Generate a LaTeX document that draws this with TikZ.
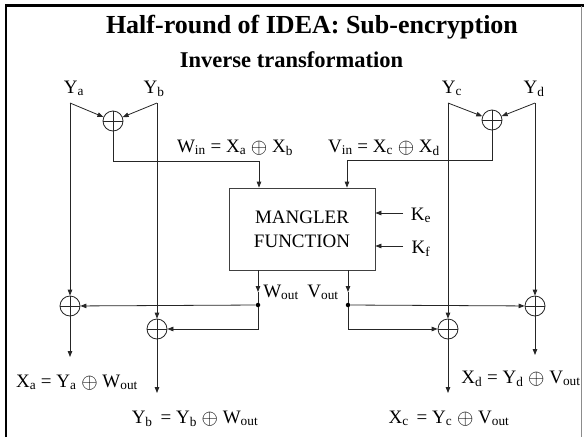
\documentclass[tikz,border=0pt]{standalone}
\usepackage{graphicx}
\usepackage{fontspec}
\setmainfont{Liberation Serif}
\usetikzlibrary{arrows.meta,calc}
\newcommand\sbs[1]{\textsubscript{#1}}
\newcommand\xo{ \raisebox{-1.2pt}{\scalebox{1.22}{$\oplus$}} }
\begin{document}
\begin{tikzpicture}[x=1pt,y=-1pt,
  ln/.style={draw=black!85,line width=0.8pt},
  arr/.style={ln,-{Triangle[length=6pt,width=4.5pt]}},
  xorn/.style={circle,draw=black!85,line width=0.8pt,minimum size=20pt,inner sep=0pt,
    path picture={\draw[black!85,line width=0.8pt]
      (path picture bounding box.north) -- (path picture bounding box.south)
      (path picture bounding box.west) -- (path picture bounding box.east);}},
  dotn/.style={circle,fill=black,inner sep=0pt,minimum size=4.5pt},
  lbl/.style={font=\fontsize{19}{23}\selectfont,inner sep=0pt,anchor=base},
  boxn/.style={draw=black!75,line width=0.8pt,minimum width=146pt,minimum height=82pt,
    align=center,font=\fontsize{19}{24}\selectfont,inner sep=0pt}]
\useasboundingbox (0,0) rectangle (584,437);
\fill[white] (0,0) rectangle (584,437);
% frame
\draw[line width=2.6pt,black] (6,437) -- (6,5.3) -- (584,5.3);
\draw[line width=0.9pt,black!45] (581,6) -- (581,437);
% titles
\node[inner sep=0pt,anchor=base,font=\fontsize{26}{30}\selectfont\bfseries] (title) at (312,33) {Half-round of IDEA: Sub-encryption};
\node[inner sep=0pt,anchor=base,font=\fontsize{22.5}{26}\selectfont\bfseries] (sub) at (291.5,67) {Inverse transformation};
% input labels
\node[lbl] (lya) at (74,93) {Y\sbs{a}};
\node[lbl] (lyb) at (154,93) {Y\sbs{b}};
\node[lbl] (lyc) at (452,93) {Y\sbs{c}};
\node[lbl] (lyd) at (534,93) {Y\sbs{d}};
\coordinate (ta) at (70,103);
\coordinate (tb) at (157,103);
\coordinate (tc) at (448,103);
\coordinate (td) at (535,103);
% xor nodes
\node[xorn] (xin) at (113,121) {};
\node[xorn] (xvin) at (492,120) {};
\node[xorn] (xa) at (70,306) {};
\node[xorn] (xb) at (157,329) {};
\node[xorn] (xc) at (448,329) {};
\node[xorn] (xd) at (535,306) {};
% mangler
\node[boxn] (mangler) at (302,229) {MANGLER\\FUNCTION};
% in labels
\node[lbl] (win) at (235,152) {W\sbs{in} = X\sbs{a}\xo X\sbs{b}};
\node[lbl] (vin) at (384,152) {V\sbs{in} = X\sbs{c}\xo X\sbs{d}};
% key labels
\node[lbl] (ke) at (421,220) {K\sbs{e}};
\node[lbl] (kf) at (421,253) {K\sbs{f}};
\coordinate (kes) at (403,213);
\coordinate (kfs) at (403,246);
\draw[arr] (kes) -- (mangler.east |- kes);
\draw[arr] (kfs) -- (mangler.east |- kfs);
% top xors
\draw[arr] (ta) -- (xin);
\draw[arr] (tb) -- (xin);
\draw[arr] (tc) -- (xvin);
\draw[arr] (td) -- (xvin);
\coordinate (wbend) at (259,161);
\coordinate (vbend) at (347,160);
\draw[arr] (xin) |- (wbend) -- (mangler.north -| wbend);
\draw[arr] (xvin) |- (vbend) -- (mangler.north -| vbend);
% vertical data lines
\draw[arr] (ta) -- (xa);
\draw[arr] (tb) -- (xb);
\draw[arr] (tc) -- (xc);
\draw[arr] (td) -- (xd);
% outputs of mangler
\node[dotn] (wdot) at (258,305) {};
\node[dotn] (vdot) at (348,305) {};
\coordinate (wmid) at (258,292);
\coordinate (vmid) at (348,292);
\draw[arr] (mangler.south -| wdot) -- (wmid);
\draw[ln] (wmid) -- (wdot);
\draw[arr] (mangler.south -| vdot) -- (vmid);
\draw[ln] (vmid) -- (vdot);
\node[lbl] (wout) at (281,297) {W\sbs{out}};
\node[lbl] (vout) at (323,297) {V\sbs{out}};
\draw[arr] (wdot) -- (xa);
\draw[arr] (wdot) |- (xb);
\draw[arr] (vdot) -- (xd);
\draw[arr] (vdot) |- (xc);
% outputs
\coordinate (oa) at (70,357);
\coordinate (ob) at (157,393);
\coordinate (oc) at (448,393);
\coordinate (od) at (535,355);
\draw[arr] (xa) -- (oa);
\draw[arr] (xb) -- (ob);
\draw[arr] (xc) -- (oc);
\draw[arr] (xd) -- (od);
\node[lbl] (lxa) at (77,387) {X\sbs{a} = Y\sbs{a}\xo W\sbs{out}};
\node[lbl] (lxb) at (195,423) {Y\sbs{b}\ \,= Y\sbs{b}\xo W\sbs{out}};
\node[lbl] (lxc) at (449,423) {X\sbs{c}\ \,= Y\sbs{c}\xo V\sbs{out}};
\node[lbl] (lxd) at (521,383) {X\sbs{d} = Y\sbs{d}\xo V\sbs{out}};
\end{tikzpicture}
\end{document}
